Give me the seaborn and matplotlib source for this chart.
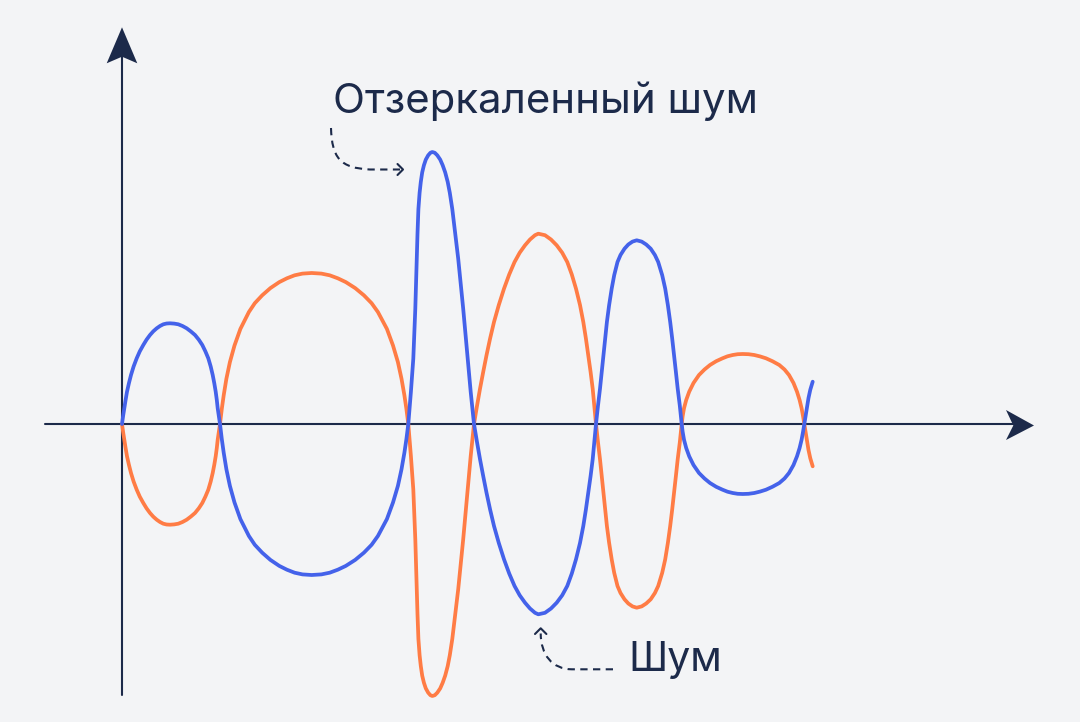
import matplotlib
matplotlib.use("Agg")
import matplotlib.pyplot as plt
import pandas as pd
import seaborn as sns
from matplotlib.path import Path
from matplotlib.patches import PathPatch, Polygon

# ---------------- data ----------------
t = [0, 1.1, 2.3, 3.6, 5, 6.9, 9, 11.6, 14.7, 17.8, 21.3, 24.6, 28, 31.3, 34.7, 38, 41.3, 44.6, 48,
     52.2, 56.3, 60.5, 64.7, 68.8, 73, 76.8, 80.3, 83.4, 86.3, 88.7, 90.7, 92.3, 93.7, 94.8, 95.7, 96.8, 98,
     99.8, 101.7, 104.4, 107.9, 112.5, 118.4, 126.9, 132.8, 140.2, 148.4, 157.3, 164.9, 172.6, 180.5, 189.7,
     199.4, 207.7, 215.8, 223.8, 233.2, 241.9, 249.6, 255.9, 264.9, 271.0, 275.9, 279.5, 282.4, 284.4, 286.3,
     288.9, 291.3, 293.3, 294.7, 295.5, 296.4, 297.6, 298.8, 300.2, 301.9, 303.8, 306.2, 308.4, 310.3,
     312.8, 315.3, 318.2, 320.7, 323.2, 325.7, 327.8, 330.3, 333.2, 336.2, 341.2, 345.7, 348.7, 352,
     354.9, 358, 361.2, 364.5, 368.1, 372, 376.8, 382, 387.2, 392.5, 397.7, 403, 408, 413, 416.3,
     423, 429, 434.7, 440.2, 445.3, 449.8, 454, 458, 461.3, 463.9, 466.3, 468.6, 470.7, 472.4, 474,
     476, 478, 479.7, 481.3, 483, 484.9, 487.1, 489.7, 492.2, 495.5, 498.5, 502.5, 506.3, 510.5, 514.7,
     519.7, 524.2, 528.7, 532.9, 536.2, 540.2, 543.2, 545.9, 548.2, 550.2, 552.1, 553.9, 555.7, 557.8, 559.7,
     560.6, 562, 564.2, 567.2, 571.5, 577, 582.5, 588, 594.2, 600.5, 605.5, 610.7, 615.7, 620.7,
     626.5, 632.3, 638, 644, 650.6, 657.3, 662.5, 667, 671.5, 675, 677.6, 679.6, 681.1, 682.3,
     683.6, 685, 686.5, 688.3, 690.7]

noise_blue = [0, 8, 15.7, 24, 32.3, 40.7, 49, 57.5, 65.7, 72.7, 79, 84.4, 89, 92.7, 95.7, 98, 99.7, 100.5, 100.7,
              100.4, 99.7, 98, 95.7, 92.6, 89, 84.3, 79, 72.6, 65.7, 57.5, 49, 40.7, 32.3, 24, 15.7, 8, 0,
              -15.1, -28.7, -45.3, -61.9, -78.5, -95.1, -112, -120.8, -128.7, -135.9, -141.9, -145.7, -148.7, -150.4, -151,
              -150.4, -148.7, -145.7, -141.9, -135.9, -128.7, -120.8, -112, -95.1, -78.5, -61.9, -45.3, -28.7, -15.1, 0,
              32.1, 65.3, 115.3, 165.4, 190.4, 214.9, 231.2, 242.1, 251.6, 258.7, 264.4, 268.7, 271.2, 272,
              271.2, 268.7, 264.4, 258.7, 251.6, 242.1, 231.2, 214.9, 190.4, 165.4, 115.3, 65.3, 32.1, 0,
              -17.5, -35.2, -52, -68.7, -85.5, -102, -119, -135.3, -149.5, -161.9, -171.3, -178.7, -184.5, -188.8, -190.3,
              -188.8, -184.5, -178.7, -171.3, -161.9, -149.5, -135.3, -119, -102, -85.5, -68.7, -52, -35.2, -17.5, 0,
              18.4, 35.3, 52, 68.7, 85.4, 102, 118.7, 135.4, 148.8, 162, 169, 175.3, 179.5, 182.4, 183.7,
              182.4, 179.5, 175.3, 169, 162, 148.8, 135.4, 118.7, 102, 85.4, 68.7, 52, 35.3, 18.4, 0,
              -7.5, -15.7, -24, -32.3, -41, -49, -54.5, -59, -62.8, -65.7, -67.7, -69, -69.8, -70,
              -69.8, -69, -67.6, -65.7, -62.7, -59, -54.5, -49, -41, -32.3, -24, -15.7, -7.5, 0,
              8.5, 17.5, 26, 34.3, 42.3]

noise_orange = [0, -8, -15.7, -24, -32.3, -40.7, -49, -57.5, -65.7, -72.7, -79, -84.4, -89, -92.7, -95.7, -98, -99.7, -100.5, -100.7,
                -100.4, -99.7, -98, -95.7, -92.6, -89, -84.3, -79, -72.6, -65.7, -57.5, -49, -40.7, -32.3, -24, -15.7, -8, 0,
                15.1, 28.7, 45.3, 61.9, 78.5, 95.1, 112, 120.8, 128.7, 135.9, 141.9, 145.7, 148.7, 150.4, 151,
                150.4, 148.7, 145.7, 141.9, 135.9, 128.7, 120.8, 112, 95.1, 78.5, 61.9, 45.3, 28.7, 15.1, 0,
                -32.1, -65.3, -115.3, -165.4, -190.4, -214.9, -231.2, -242.1, -251.6, -258.7, -264.4, -268.7, -271.2, -272,
                -271.2, -268.7, -264.4, -258.7, -251.6, -242.1, -231.2, -214.9, -190.4, -165.4, -115.3, -65.3, -32.1, 0,
                17.5, 35.2, 52, 68.7, 85.5, 102, 119, 135.3, 149.5, 161.9, 171.3, 178.7, 184.5, 188.8, 190.3,
                188.8, 184.5, 178.7, 171.3, 161.9, 149.5, 135.3, 119, 102, 85.5, 68.7, 52, 35.2, 17.5, 0,
                -18.4, -35.3, -52, -68.7, -85.4, -102, -118.7, -135.4, -148.8, -162, -169, -175.3, -179.5, -182.4, -183.7,
                -182.4, -179.5, -175.3, -169, -162, -148.8, -135.4, -118.7, -102, -85.4, -68.7, -52, -35.3, -18.4, 0,
                7.5, 15.7, 24, 32.3, 41, 49, 54.5, 59, 62.8, 65.7, 67.7, 69, 69.8, 70,
                69.8, 69, 67.6, 65.7, 62.7, 59, 54.5, 49, 41, 32.3, 24, 15.7, 7.5, 0,
                -8.5, -17.5, -26, -34.3, -42.3]

series_names = ["blue", "orange"]
label_top = "Отзеркаленный шум"
label_bottom = "Шум"

# ---------------- style ----------------
BG = "#F3F4F6"
NAVY = "#1C2A4A"
BLUE = "#4462EA"
ORANGE = "#FF7C45"

sns.set_theme(style="white")
plt.rcParams["font.family"] = ["Inter", "DejaVu Sans"]

df = pd.concat([
    pd.DataFrame({"t": t, "v": noise_orange, "s": series_names[1]}),
    pd.DataFrame({"t": t, "v": noise_blue, "s": series_names[0]}),
], ignore_index=True)

fig = plt.figure(figsize=(10.8, 7.22), dpi=100)
fig.patch.set_facecolor(BG)
ax = fig.add_axes([0, 0, 1, 1])
ax.set_facecolor(BG)

# axes lines
ax.plot([-77, 892], [0, 0], color=NAVY, lw=1.5, zorder=1, solid_capstyle="butt")
ax.plot([0, 0], [-271, 368], color=NAVY, lw=1.5, zorder=1, solid_capstyle="butt")
# stealth arrowheads
ax.add_patch(Polygon([(0, 396.7), (-15.3, 360.7), (0, 367.3), (15.3, 360.7)],
                     closed=True, color=NAVY, lw=0, zorder=2))
ax.add_patch(Polygon([(912, -1.5), (884, 14), (891.3, -1.5), (884, -16)],
                     closed=True, color=NAVY, lw=0, zorder=2))

sns.lineplot(data=df, x="t", y="v", hue="s", estimator=None, sort=False,
             palette={"blue": BLUE, "orange": ORANGE}, hue_order=["orange", "blue"],
             linewidth=2.7, legend=False, ax=ax, zorder=3)
for ln in ax.lines:
    ln.set_solid_joinstyle("round")
    ln.set_solid_capstyle("round")

ax.set_xlim(-122, 958)
ax.set_ylim(-298, 424)
ax.axis("off")

# labels
ax.text(211, 310.7, label_top, fontsize=30.2, color=NAVY, ha="left", va="baseline")
ax.text(506.3, -246.7, label_bottom, fontsize=29.5, color=NAVY, ha="left", va="baseline")

# dashed pointers
dash = (0, (3.5, 2.6))
p1 = Path([(209, 296), (210, 266), (218, 256), (248, 254.5), (278, 254.5)],
          [Path.MOVETO, Path.CURVE4, Path.CURVE4, Path.CURVE4, Path.LINETO])
ax.add_patch(PathPatch(p1, fill=False, edgecolor=NAVY, lw=1.5, linestyle=dash, zorder=2))
ax.plot([275.5, 281, 275.5], [260, 254.5, 249], color=NAVY, lw=1.5, zorder=2)

p2 = Path([(491, -245.3), (450, -245.3), (430, -245), (419, -231), (418.7, -209.5)],
          [Path.MOVETO, Path.LINETO, Path.CURVE4, Path.CURVE4, Path.CURVE4])
ax.add_patch(PathPatch(p2, fill=False, edgecolor=NAVY, lw=1.5, linestyle=dash, zorder=2))
ax.plot([413, 418.7, 424.4], [-210, -204.3, -210], color=NAVY, lw=1.5, zorder=2)

fig.savefig("out.png", dpi=100, facecolor=BG)
